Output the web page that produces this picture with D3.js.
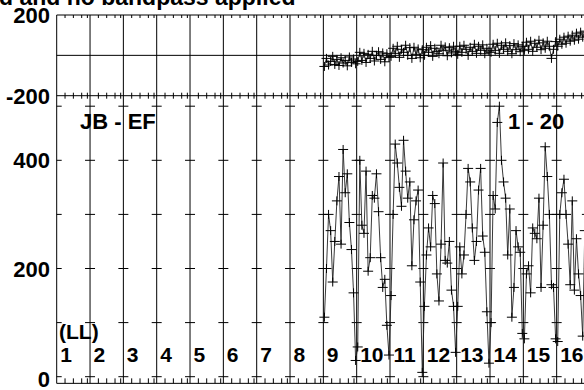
<!DOCTYPE html>
<html><head><meta charset="utf-8">
<script src="https://cdn.jsdelivr.net/npm/d3@7"></script>
<style>
body{margin:0;background:#fff}
svg{display:block}
text{font-family:"Liberation Sans",Arial,Helvetica,sans-serif;font-weight:bold;fill:#000}
</style></head><body>
<svg id="c" width="584" height="390"></svg>
<script>
// ---- data ----
const titleText = "d and no bandpass applied";
const baselineLabel = "JB - EF";
const timeLabel = "1 - 20";
const polLabel = "(LL)";
const ifLabels = ["1","2","3","4","5","6","7","8","9","10","11","12","13","14","15","16"];
const phaseTicks = [200, -200];
const ampTicks = [0, 200, 400];
const ampMinorTicks = [0, 100, 200, 300, 400, 500];
const firstDataIF = 9;
const nChan = 16;

const phase = [
  -55,-15,-48,-30,-5,-45,-20,-50,-12,-38,-25,-52,-8,-35,-18,-42,
  -30,15,-25,10,-35,5,-15,20,-28,0,18,-20,12,-32,8,-10,
  -5,35,10,45,-10,30,15,50,0,38,-15,40,5,32,-12,28,
  0,40,15,48,-5,35,20,8,50,25,42,-2,38,12,45,18,
  5,45,15,50,30,0,40,20,55,10,45,25,52,8,35,22,
  15,55,25,60,10,50,30,62,20,48,8,58,28,52,18,45,
  25,65,30,70,20,60,40,75,28,62,35,70,45,-15,30,68,
  45,80,55,90,60,95,70,100,75,110,80,115,90,120,95,110
];
const amp = [
  110,200,300,270,175,250,325,370,245,420,340,375,285,235,155,30,
  55,400,280,265,380,195,220,335,330,375,305,220,165,180,95,40,
  150,300,430,395,350,315,437,380,330,360,205,290,325,345,175,8,
  130,225,275,240,335,320,190,140,245,395,215,210,250,160,130,45,
  130,240,190,225,300,385,360,275,215,250,345,385,260,230,120,25,
  100,335,310,470,500,400,360,330,225,310,110,165,270,240,230,80,
  70,190,205,155,275,265,255,330,165,280,425,370,300,170,165,70,
  65,300,340,365,300,245,170,325,160,255,190,150,75,270,300,200
];

// ---- scales ----
const nIF = ifLabels.length;
const x = d3.scaleLinear().domain([0, nIF]).range([56.7, 590]);
const yP = d3.scaleLinear().domain([-200, 200]).range([95.7, 15]);
const yA = d3.scaleLinear().domain([0, 500]).range([376.7, 106.2]);
const yBottom = yA(-12.3);
const yTop = yP(200), yMid = yP(-200);

const svg = d3.select("#c");
const g = svg.append("g");

const chanX = i => x((firstDataIF - 1) + Math.floor(i / nChan) + ((i % nChan) + 0.5) / nChan);

// frame + grid
const xs = d3.range(0, nIF + 1);
g.selectAll("line.v").data(xs).join("line")
  .attr("x1", d => x(d)).attr("x2", d => x(d))
  .attr("y1", yTop).attr("y2", yBottom)
  .attr("stroke", "#000").attr("stroke-width", 1);
[yTop, yP(0), yMid, yBottom].forEach(yy => {
  g.append("line").attr("x1", x(0)).attr("x2", x(nIF)).attr("y1", yy).attr("y2", yy)
    .attr("stroke", "#000").attr("stroke-width", 1);
});

// minor ticks
const minorFrac = [0.25, 0.5, 0.75, 0.92];
const minors = [];
xs.slice(0, nIF).forEach(k => minorFrac.forEach(f => minors.push(k + f)));
minors.forEach(m => {
  g.append("line").attr("x1", x(m)).attr("x2", x(m)).attr("y1", yTop).attr("y2", yTop + 3).attr("stroke", "#000");
  g.append("line").attr("x1", x(m)).attr("x2", x(m)).attr("y1", yMid - 3).attr("y2", yMid + 3).attr("stroke", "#000");
  g.append("line").attr("x1", x(m)).attr("x2", x(m)).attr("y1", yBottom - 5).attr("y2", yBottom).attr("stroke", "#000");
});
// horizontal ticks on verticals
xs.forEach(k => {
  ampMinorTicks.forEach(v => {
    g.append("line").attr("x1", k === 0 ? x(k) : x(k) - 5).attr("x2", x(k) + 5)
      .attr("y1", yA(v)).attr("y2", yA(v)).attr("stroke", "#000");
  });
});

// y labels
phaseTicks.forEach(v => g.append("text").attr("x", 50).attr("y", yP(v) + 8)
  .attr("text-anchor", "end").attr("font-size", 22).text(v));
ampTicks.forEach(v => g.append("text").attr("x", 50).attr("y", yA(v) + 8 + (v === 0 ? 2 : 0))
  .attr("text-anchor", "end").attr("font-size", 22).text(v));

// title and labels
g.append("text").attr("x", -1).attr("y", 5).attr("font-size", 23).text(titleText);
g.append("text").attr("x", 80).attr("y", 129).attr("font-size", 22).text(baselineLabel);
g.append("text").attr("x", 508).attr("y", 129).attr("font-size", 22).text(timeLabel);
g.append("text").attr("x", 59).attr("y", 339).attr("font-size", 21).text(polLabel);
ifLabels.forEach((lab, k) => g.append("text").attr("x", x(k) + 3.5).attr("y", 362)
  .attr("font-size", 21).text(lab));

// data lines
const pts = amp.map((v, i) => i);
const lineA = d3.line().x(i => chanX(i)).y(i => yA(amp[i]));
const lineP = d3.line().x(i => chanX(i)).y(i => yP(phase[i]));
g.append("path").attr("d", lineA(pts)).attr("fill", "none").attr("stroke", "#222").attr("stroke-width", 0.9);
g.append("path").attr("d", lineP(pts)).attr("fill", "none").attr("stroke", "#222").attr("stroke-width", 0.9);

const cross = (cx, cy) => `M${cx - 5},${cy}H${cx + 5}M${cx},${cy - 4.5}V${cy + 4.5}`;
g.append("path").attr("d", pts.map(i => cross(chanX(i), yA(amp[i]))).join(""))
  .attr("fill", "none").attr("stroke", "#000").attr("stroke-width", 1);
g.append("path").attr("d", pts.map(i => cross(chanX(i), yP(phase[i]))).join(""))
  .attr("fill", "none").attr("stroke", "#000").attr("stroke-width", 1);
</script>
</body></html>
